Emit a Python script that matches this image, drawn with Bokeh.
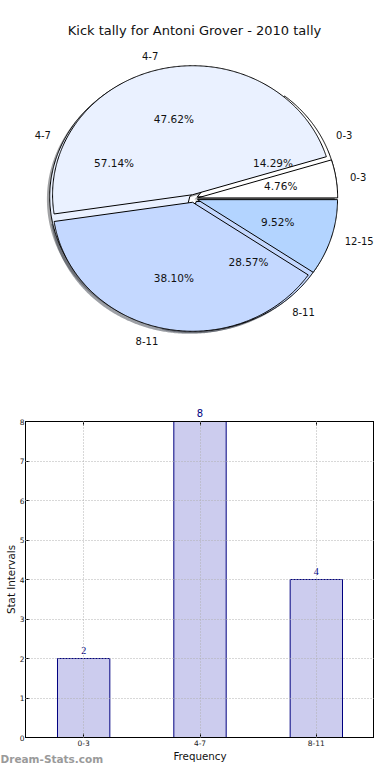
import numpy as np
from bokeh.plotting import figure
from bokeh.models import (Range1d, ColumnDataSource, Label, LabelSet, LinearAxis, FixedTicker,
                          Title)
from bokeh.layouts import column
from bokeh.core.properties import value
from bokeh.embed import file_html
from bokeh.resources import INLINE

# ---------------- data ----------------
title_text = "Kick tally for Antoni Grover - 2010 tally"
outer_labels = ["0-3", "4-7", "8-11", "12-15"]
outer_values = [1, 10, 8, 2]
inner_labels = ["0-3", "4-7", "8-11"]
inner_values = [2, 8, 4]
slice_colors = {"0-3": "#ffffff", "4-7": "#eaf1ff", "8-11": "#c4d8ff", "12-15": "#b3d4ff"}

bar_categories = ["0-3", "4-7", "8-11"]
bar_values = [2, 8, 4]
y_ticks = [0, 1, 2, 3, 4, 5, 6, 7, 8]
y_max = 8
x_axis_label = "Frequency"
y_axis_label = "Stat Intervals"
watermark = "Dream-Stats.com"

# ---------------- styling ----------------
FONT = "DejaVu Sans"
W = 374
PIE_H = 370
BAR_H = 394
FL, FR = 25, 0              # shared frame borders (the column aligns the frames)
RX, RY = 140.0, 129.0       # pixels per pie unit
CX_PX, CY_PX = 193.0, 198.0  # pie centre inside the figure
EXPLODE = 0.03
SHADOW = 0.02
LABEL_DIST = 1.1
PCT_DIST = 0.6


def shade(hexcol):
    h = hexcol.lstrip("#")
    r, g, b = (int(h[i:i + 2], 16) for i in (0, 2, 4))
    return "#%02x%02x%02x" % (int(r * 0.3), int(g * 0.3), int(b * 0.3))


def build_wedges(labels, values):
    total = float(sum(values))
    rows = []
    start = 0.0
    for lab, v in zip(labels, values):
        frac = v / total
        t1, t2 = start, start + 360.0 * frac
        tm = np.radians((t1 + t2) / 2.0)
        ox, oy = EXPLODE * np.cos(tm), EXPLODE * np.sin(tm)
        n = max(6, int((t2 - t1) * 2))
        th = np.radians(np.linspace(t1, t2, n))
        xs = np.concatenate([[ox], ox + np.cos(th), [ox]])
        ys = np.concatenate([[oy], oy + np.sin(th), [oy]])
        lx = ox + LABEL_DIST * np.cos(tm)
        ly = oy + LABEL_DIST * np.sin(tm)
        px = ox + PCT_DIST * np.cos(tm)
        py = oy + PCT_DIST * np.sin(tm)
        rows.append(dict(label=lab, xs=xs, ys=ys, lx=lx, ly=ly, px=px, py=py,
                         pct="%.2f%%" % (100.0 * frac),
                         align="left" if lx > 0 else "right",
                         color=slice_colors[lab]))
        start = t2
    return rows


inner = build_wedges(inner_labels, inner_values)
outer = build_wedges(outer_labels, outer_values)

pie = figure(width=W, height=PIE_H,
             x_range=Range1d(-(CX_PX - FL) / RX, (W - FR - CX_PX) / RX),
             y_range=Range1d(-(PIE_H - CY_PX) / RY, CY_PX / RY),
             output_backend="svg", toolbar_location=None,
             min_border_left=FL, min_border_right=FR, min_border_top=0, min_border_bottom=0,
             x_axis_type=None, y_axis_type=None, outline_line_color=None)
pie.grid.visible = False


def shadow_source(rows):
    return ColumnDataSource(dict(xs=[r["xs"] - SHADOW for r in rows],
                                 ys=[r["ys"] - SHADOW for r in rows],
                                 c=[shade(r["color"]) for r in rows]))


def wedge_source(rows):
    return ColumnDataSource(dict(xs=[r["xs"] for r in rows], ys=[r["ys"] for r in rows],
                                 c=[r["color"] for r in rows]))


for rows in (inner, outer):
    pie.patches("xs", "ys", source=shadow_source(rows), fill_color="c",
                fill_alpha=0.5, line_color=None)
for rows in (inner, outer):
    pie.patches("xs", "ys", source=wedge_source(rows), fill_color="c",
                line_color="black", line_width=1)

all_rows = inner + outer
lab_src = ColumnDataSource(dict(x=[r["lx"] for r in all_rows], y=[r["ly"] for r in all_rows],
                                t=[r["label"] for r in all_rows], a=[r["align"] for r in all_rows]))
pie.text("x", "y", text="t", text_align="a", text_baseline="middle", source=lab_src,
         text_font=value(FONT), text_font_size="10px", text_color="#111111")
pct_src = ColumnDataSource(dict(x=[r["px"] for r in all_rows], y=[r["py"] for r in all_rows],
                                t=[r["pct"] for r in all_rows]))
pie.text("x", "y", text="t", text_align="center", text_baseline="middle", source=pct_src,
         text_font=value(FONT), text_font_size="10.5px", text_color="#111111")

pie.add_layout(Label(x=(194 - CX_PX) / RX, y=(CY_PX - 30) / RY, text=title_text,
                     text_align="center", text_baseline="middle",
                     text_font=FONT, text_font_size="13px", text_color="#111111"))

# ---------------- bar chart ----------------
n_cat = len(bar_categories)
slots = list(range(n_cat))            # one slot per category on a numeric axis
BT, BB = 51, 24
bar = figure(width=W, height=BAR_H, x_range=Range1d(-0.5, n_cat - 0.5),
             y_range=Range1d(0, y_max), output_backend="svg", toolbar_location=None,
             min_border_left=FL, min_border_right=FR, min_border_top=BT,
             min_border_bottom=BB, outline_line_color="black")

bar.vbar(x=slots, top=bar_values, width=0.45, fill_color="#ccccee",
         line_color="#000080", line_width=1)

# value labels: those inside the frame as a LabelSet, the one at the top edge on the top axis
inside = [(s, v) for s, v in zip(slots, bar_values) if v < y_max]
bar_src = ColumnDataSource(dict(x=[s for s, _ in inside], y=[v for _, v in inside],
                                t=[str(v) for _, v in inside]))
bar.add_layout(LabelSet(x="x", y="y", text="t", source=bar_src, text_align="center",
                        text_baseline="alphabetic", y_offset=5, text_font=FONT,
                        text_font_size="10px", text_color="#000080"))

bar.xaxis[0].ticker = FixedTicker(ticks=slots)
bar.xaxis[0].major_label_overrides = {s: c for s, c in zip(slots, bar_categories)}
bar.yaxis[0].ticker = FixedTicker(ticks=y_ticks)
for ax in (bar.xaxis[0], bar.yaxis[0]):
    ax.major_tick_in = 4
    ax.major_tick_out = 0
    ax.minor_tick_line_color = None
    ax.axis_line_color = "black"
    ax.major_label_text_font = FONT
    ax.major_label_text_font_size = "7.5px"
    ax.major_label_text_color = "#222222"
    ax.axis_label_text_font = FONT
    ax.axis_label_text_font_size = "10.3px"
    ax.axis_label_text_font_style = "normal"
    ax.axis_label_text_color = "#111111"
bar.yaxis[0].major_label_standoff = 1
bar.xaxis[0].major_label_standoff = 2
bar.xaxis[0].axis_label = x_axis_label
bar.xaxis[0].axis_label_standoff = 1
bar.yaxis[0].axis_label = y_axis_label
bar.yaxis[0].axis_label_standoff = 0

top_overrides = {s: (str(v) if v >= y_max else " ") for s, v in zip(slots, bar_values)}
top_ax = LinearAxis(ticker=FixedTicker(ticks=slots),
                    major_tick_in=4, major_tick_out=0, minor_tick_line_color=None,
                    axis_line_color="black", major_label_overrides=top_overrides,
                    major_label_standoff=3, major_label_text_color="#000080",
                    major_label_text_font=FONT, major_label_text_font_size="10px")
bar.add_layout(top_ax, "above")

for g in (bar.xgrid[0], bar.ygrid[0]):
    g.grid_line_color = "#b0b0b0"
    g.grid_line_dash = "1 2"
    g.level = "overlay"
bar.xgrid[0].ticker = FixedTicker(ticks=slots)
bar.ygrid[0].ticker = FixedTicker(ticks=y_ticks)

# ---------------- watermark (transparent strip laid over the bottom edge) ----------------
WM_H = 20
wm = figure(width=W, height=WM_H, x_range=Range1d(0, 1), y_range=Range1d(0, 1),
            output_backend="svg", toolbar_location=None,
            min_border_left=FL, min_border_right=FR, min_border_top=0, min_border_bottom=0,
            x_axis_type=None, y_axis_type=None, outline_line_color=None,
            background_fill_alpha=0, border_fill_alpha=0, margin=(-WM_H, 0, 0, 0))
wm.grid.visible = False
wm.add_layout(Title(text=watermark, align="left", offset=-FL, standoff=0,
                    text_font=FONT, text_font_style="bold", text_font_size="10.5px",
                    text_color="#9a9a9a"), "below")

layout = column(pie, bar, wm, spacing=0)
open("out.html", "w").write(file_html(layout, INLINE))
